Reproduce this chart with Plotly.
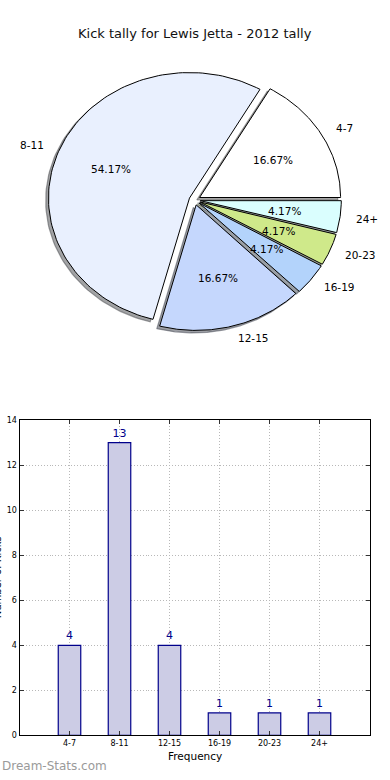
import numpy as np
import plotly.graph_objects as go

# ---------------- data ----------------
categories = ["4-7", "8-11", "12-15", "16-19", "20-23", "24+"]
counts = [4, 13, 4, 1, 1, 1]
pie_colors = ["#ffffff", "#e9f0fe", "#c5d7fd", "#b3d3fb", "#cfe98a", "#dafefe"]
title_text = "Kick tally for Lewis Jetta - 2012 tally"
x_title = "Frequency"
y_title = "Number of Kicks"
y_ticks = [0, 2, 4, 6, 8, 10, 12, 14]
watermark = "Dream-Stats.com"

# ---------------- styling ----------------
W, H = 390, 780
FONT = "DejaVu Sans"
explode = 0.04
bar_fill = "#ccccE5"
bar_edge = "#00008b"

fig = go.Figure()

# ---------------- pie (drawn as wedges on an elliptical axis, like matplotlib) ----------------
total = float(sum(counts))
angles = []
start = 0.0
for c in counts:
    span = 360.0 * c / total
    angles.append((start, start + span))
    start += span


def hex_rgb(h):
    h = h.lstrip("#")
    return tuple(int(h[i:i + 2], 16) for i in (0, 2, 4))


wedges = []
for (t1, t2), col in zip(angles, pie_colors):
    mid = np.deg2rad((t1 + t2) / 2)
    ox, oy = explode * np.cos(mid), explode * np.sin(mid)
    arc = np.deg2rad(np.linspace(t1, t2, 120))
    xs = np.concatenate([[ox], ox + np.cos(arc), [ox]])
    ys = np.concatenate([[oy], oy + np.sin(arc), [oy]])
    wedges.append((xs, ys, col, mid))

# shadows first (behind all wedges)
for xs, ys, col, mid in wedges:
    r, g, b = hex_rgb(col)
    sc = "rgba(%d,%d,%d,0.5)" % (int(r * 0.3), int(g * 0.3), int(b * 0.3))
    fig.add_trace(go.Scatter(x=xs - 0.02, y=ys - 0.02, mode="lines", fill="toself",
                             fillcolor=sc, line=dict(color=sc, width=1.2),
                             xaxis="x2", yaxis="y2", hoverinfo="skip", showlegend=False))
for xs, ys, col, mid in wedges:
    fig.add_trace(go.Scatter(x=xs, y=ys, mode="lines", fill="toself",
                             fillcolor=col, line=dict(color="#000000", width=1),
                             xaxis="x2", yaxis="y2", hoverinfo="skip", showlegend=False))

annotations = []
for (xs, ys, col, mid), lab, c in zip(wedges, categories, counts):
    cx, cy = np.cos(mid), np.sin(mid)
    # outer label
    lx, ly = (explode + 1.1) * cx, (explode + 1.1) * cy
    annotations.append(dict(x=lx, y=ly, xref="x2", yref="y2", text=lab, showarrow=False,
                            xanchor="left" if lx > 0 else "right", yanchor="middle",
                            font=dict(family=FONT, size=10.5, color="#000")))
    # percentage
    px, py = (explode + 0.6) * cx, (explode + 0.6) * cy
    annotations.append(dict(x=px, y=py, xref="x2", yref="y2",
                            text="%.2f%%" % (100.0 * c / total), showarrow=False,
                            xanchor="center", yanchor="middle",
                            font=dict(family=FONT, size=10.5, color="#000")))

# pixel geometry of pie area
pcx, pcy = 194.7, 198.3
rx, ry = 141.0, 127.0
pie_dom = [0.5, 1.0]
ybot_px = H * (1 - pie_dom[0])  # 390 from top
x2_range = [-pcx / rx, (W - pcx) / rx]
y2_range = [-(ybot_px - pcy) / ry, pcy / ry]

# ---------------- bar chart ----------------
fig.add_trace(go.Bar(x=categories, y=counts, width=0.45,
                     marker=dict(color=bar_fill, line=dict(color=bar_edge, width=1.2)),
                     text=[str(v) for v in counts], textposition="outside",
                     outsidetextfont=dict(family=FONT, size=11, color=bar_edge),
                     cliponaxis=False, hoverinfo="skip", showlegend=False))

ax_l, ax_r, ax_t, ax_b = 19.5, 369.5, 421.0, 740.0

annotations.append(dict(x=0.5, y=1 - 30 / H, xref="paper", yref="paper", text=title_text,
                        showarrow=False, xanchor="center", yanchor="middle",
                        font=dict(family=FONT, size=13, color="#111")))
annotations.append(dict(x=(ax_l + ax_r) / 2 / W, y=1 - 761 / H, xref="paper", yref="paper",
                        text=x_title, showarrow=False, xanchor="center", yanchor="middle",
                        font=dict(family=FONT, size=10.5, color="#000")))
annotations.append(dict(x=4.5 / W, y=1 - 580 / H, xref="paper", yref="paper",
                        text=y_title, showarrow=False, textangle=-90,
                        xanchor="right", yanchor="middle",
                        font=dict(family=FONT, size=10, color="#000")))
annotations.append(dict(x=0, y=1 - 771 / H, xref="paper", yref="paper",
                        text=watermark, showarrow=False, xanchor="left", yanchor="middle",
                        font=dict(family=FONT, size=12, color="#9a9a9a")))

grid_dash = "1px,2px"
fig.update_layout(
    width=W, height=H, autosize=False,
    margin=dict(l=0, r=0, t=0, b=0),
    paper_bgcolor="white", plot_bgcolor="white",
    font=dict(family=FONT),
    showlegend=False,
    hovermode=False,
    annotations=annotations,
    xaxis2=dict(domain=[0, 1], range=x2_range, visible=False, fixedrange=True,
                anchor="y2"),
    yaxis2=dict(domain=pie_dom, range=y2_range, visible=False, fixedrange=True,
                anchor="x2"),
    xaxis=dict(domain=[ax_l / W, ax_r / W], range=[-1, 6], type="category",
               showline=True, linecolor="#000", linewidth=1, mirror="allticks",
               ticks="inside", ticklen=4, tickcolor="#333",
               showgrid=True, gridcolor="#b8b8b8", griddash=grid_dash, gridwidth=1,
               tickfont=dict(family=FONT, size=8, color="#000"),
               zeroline=False, anchor="y", fixedrange=True),
    yaxis=dict(domain=[1 - ax_b / H, 1 - ax_t / H], range=[0, 14],
               tickvals=y_ticks, ticktext=[str(t) for t in y_ticks],
               showline=True, linecolor="#000", linewidth=1, mirror="allticks",
               ticks="inside", ticklen=4, tickcolor="#333",
               showgrid=True, gridcolor="#b8b8b8", griddash=grid_dash, gridwidth=1,
               tickfont=dict(family=FONT, size=8, color="#000"),
               zeroline=False, anchor="x", fixedrange=True),
)

fig.write_html("out.html",
               config={"displayModeBar": False, "staticPlot": True},
               post_script="document.body.style.margin='0';"
                           "document.body.style.overflow='hidden';")
